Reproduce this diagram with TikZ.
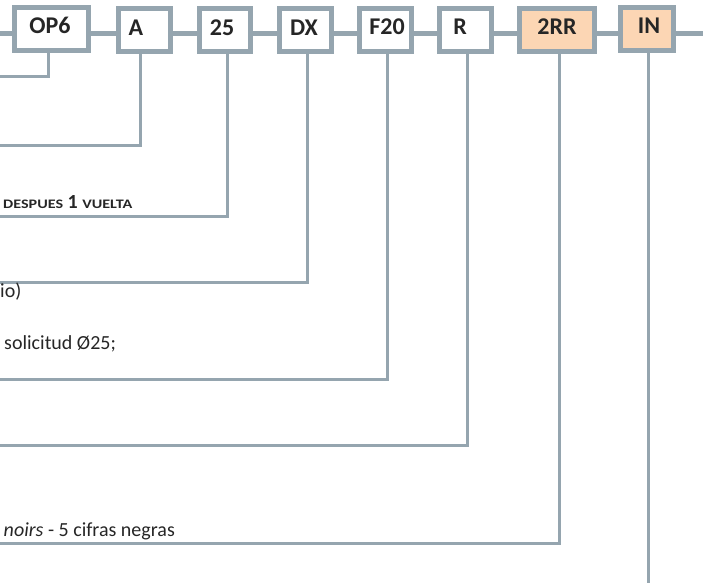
\documentclass[tikz,border=0pt]{standalone}
\usepackage{graphicx}
\usepackage{fontspec}
\setmainfont{Carlito}
\definecolor{linec}{RGB}{149,165,175}
\definecolor{orangefill}{RGB}{252,214,180}
\newcommand{\smc}[1]{\scalebox{1.24}[1]{\fontsize{13}{13}\selectfont #1}}
\tikzset{
  codebox/.style={draw=linec, line width=5pt, fill=white, inner sep=0pt,
    minimum height=43pt, text height=16pt, text depth=6pt,
    font=\fontsize{24}{24}\selectfont\bfseries, text=black!85},
  hot/.style={fill=orangefill},
  mainline/.style={draw=linec, line width=5pt},
  conn/.style={draw=linec, line width=3pt},
  desc/.style={inner sep=0pt, font=\fontsize{20}{20}\selectfont, text=black!85}
}
\begin{document}
\begin{tikzpicture}[x=1pt,y=-1pt]
\useasboundingbox (0,0) rectangle (709,583);
\clip (0,0) rectangle (709,583);
% main line
\coordinate (ls) at (0,34);
\coordinate (le) at (703,34);
\draw[mainline] (ls) -- (le);
% boxes
\node[codebox, minimum width=74pt] (op6) at (51.5,29) {OP6\hspace*{3pt}};
\node[codebox, minimum width=52pt] (a) at (144.5,30.5) {A\hspace*{17pt}};
\node[codebox, minimum width=51pt] (b25) at (225,30.5) {25\hspace*{6pt}};
\node[codebox, minimum width=52pt] (dx) at (305.5,30.5) {DX\hspace*{3pt}};
\node[codebox, minimum width=52pt] (f20) at (385.5,30) {\hspace*{3pt}F20};
\node[codebox, minimum width=52pt] (r) at (465.5,30) {R\hspace*{11pt}};
\node[codebox, hot, minimum width=75pt] (rr) at (557,30) {2RR};
\node[codebox, hot, minimum width=53pt] (in) at (647,29) {\hspace*{4pt}IN};
% connector ends
\coordinate (c1) at (0,77);
\coordinate (c2) at (0,145);
\coordinate (c3) at (0,216);
\coordinate (c4) at (0,282);
\coordinate (c5) at (0,379);
\coordinate (c6) at (0,445);
\coordinate (c7) at (0,543);
\coordinate (c8) at (648,583);
\draw[conn] ([xshift=-3.5pt]op6.south) |- (c1);
\draw[conn] ([xshift=-4.5pt]a.south) |- (c2);
\draw[conn] ([xshift=2pt]b25.south) |- (c3);
\draw[conn] ([xshift=1.5pt]dx.south) |- (c4);
\draw[conn] ([xshift=1.5pt]f20.south) |- (c5);
\draw[conn] ([xshift=1.5pt]r.south) |- (c6);
\draw[conn] ([xshift=2pt]rr.south) |- (c7);
\draw[conn] ([xshift=1pt]in.south) -- (c8);
% texts
\node[desc, anchor=base west] (t1) at (3,208) {\bfseries\smc{DESPUES} 1 \smc{VUELTA}};
\node[desc, anchor=base west] (t2) at (0,297) {io)};
\node[desc, anchor=base west] (t3) at (4,349) {solicitud Ø25;};
\node[desc, anchor=base east] (t4) at (175,536) {\textit{noirs} - 5 cifras negras};
\end{tikzpicture}
\end{document}
